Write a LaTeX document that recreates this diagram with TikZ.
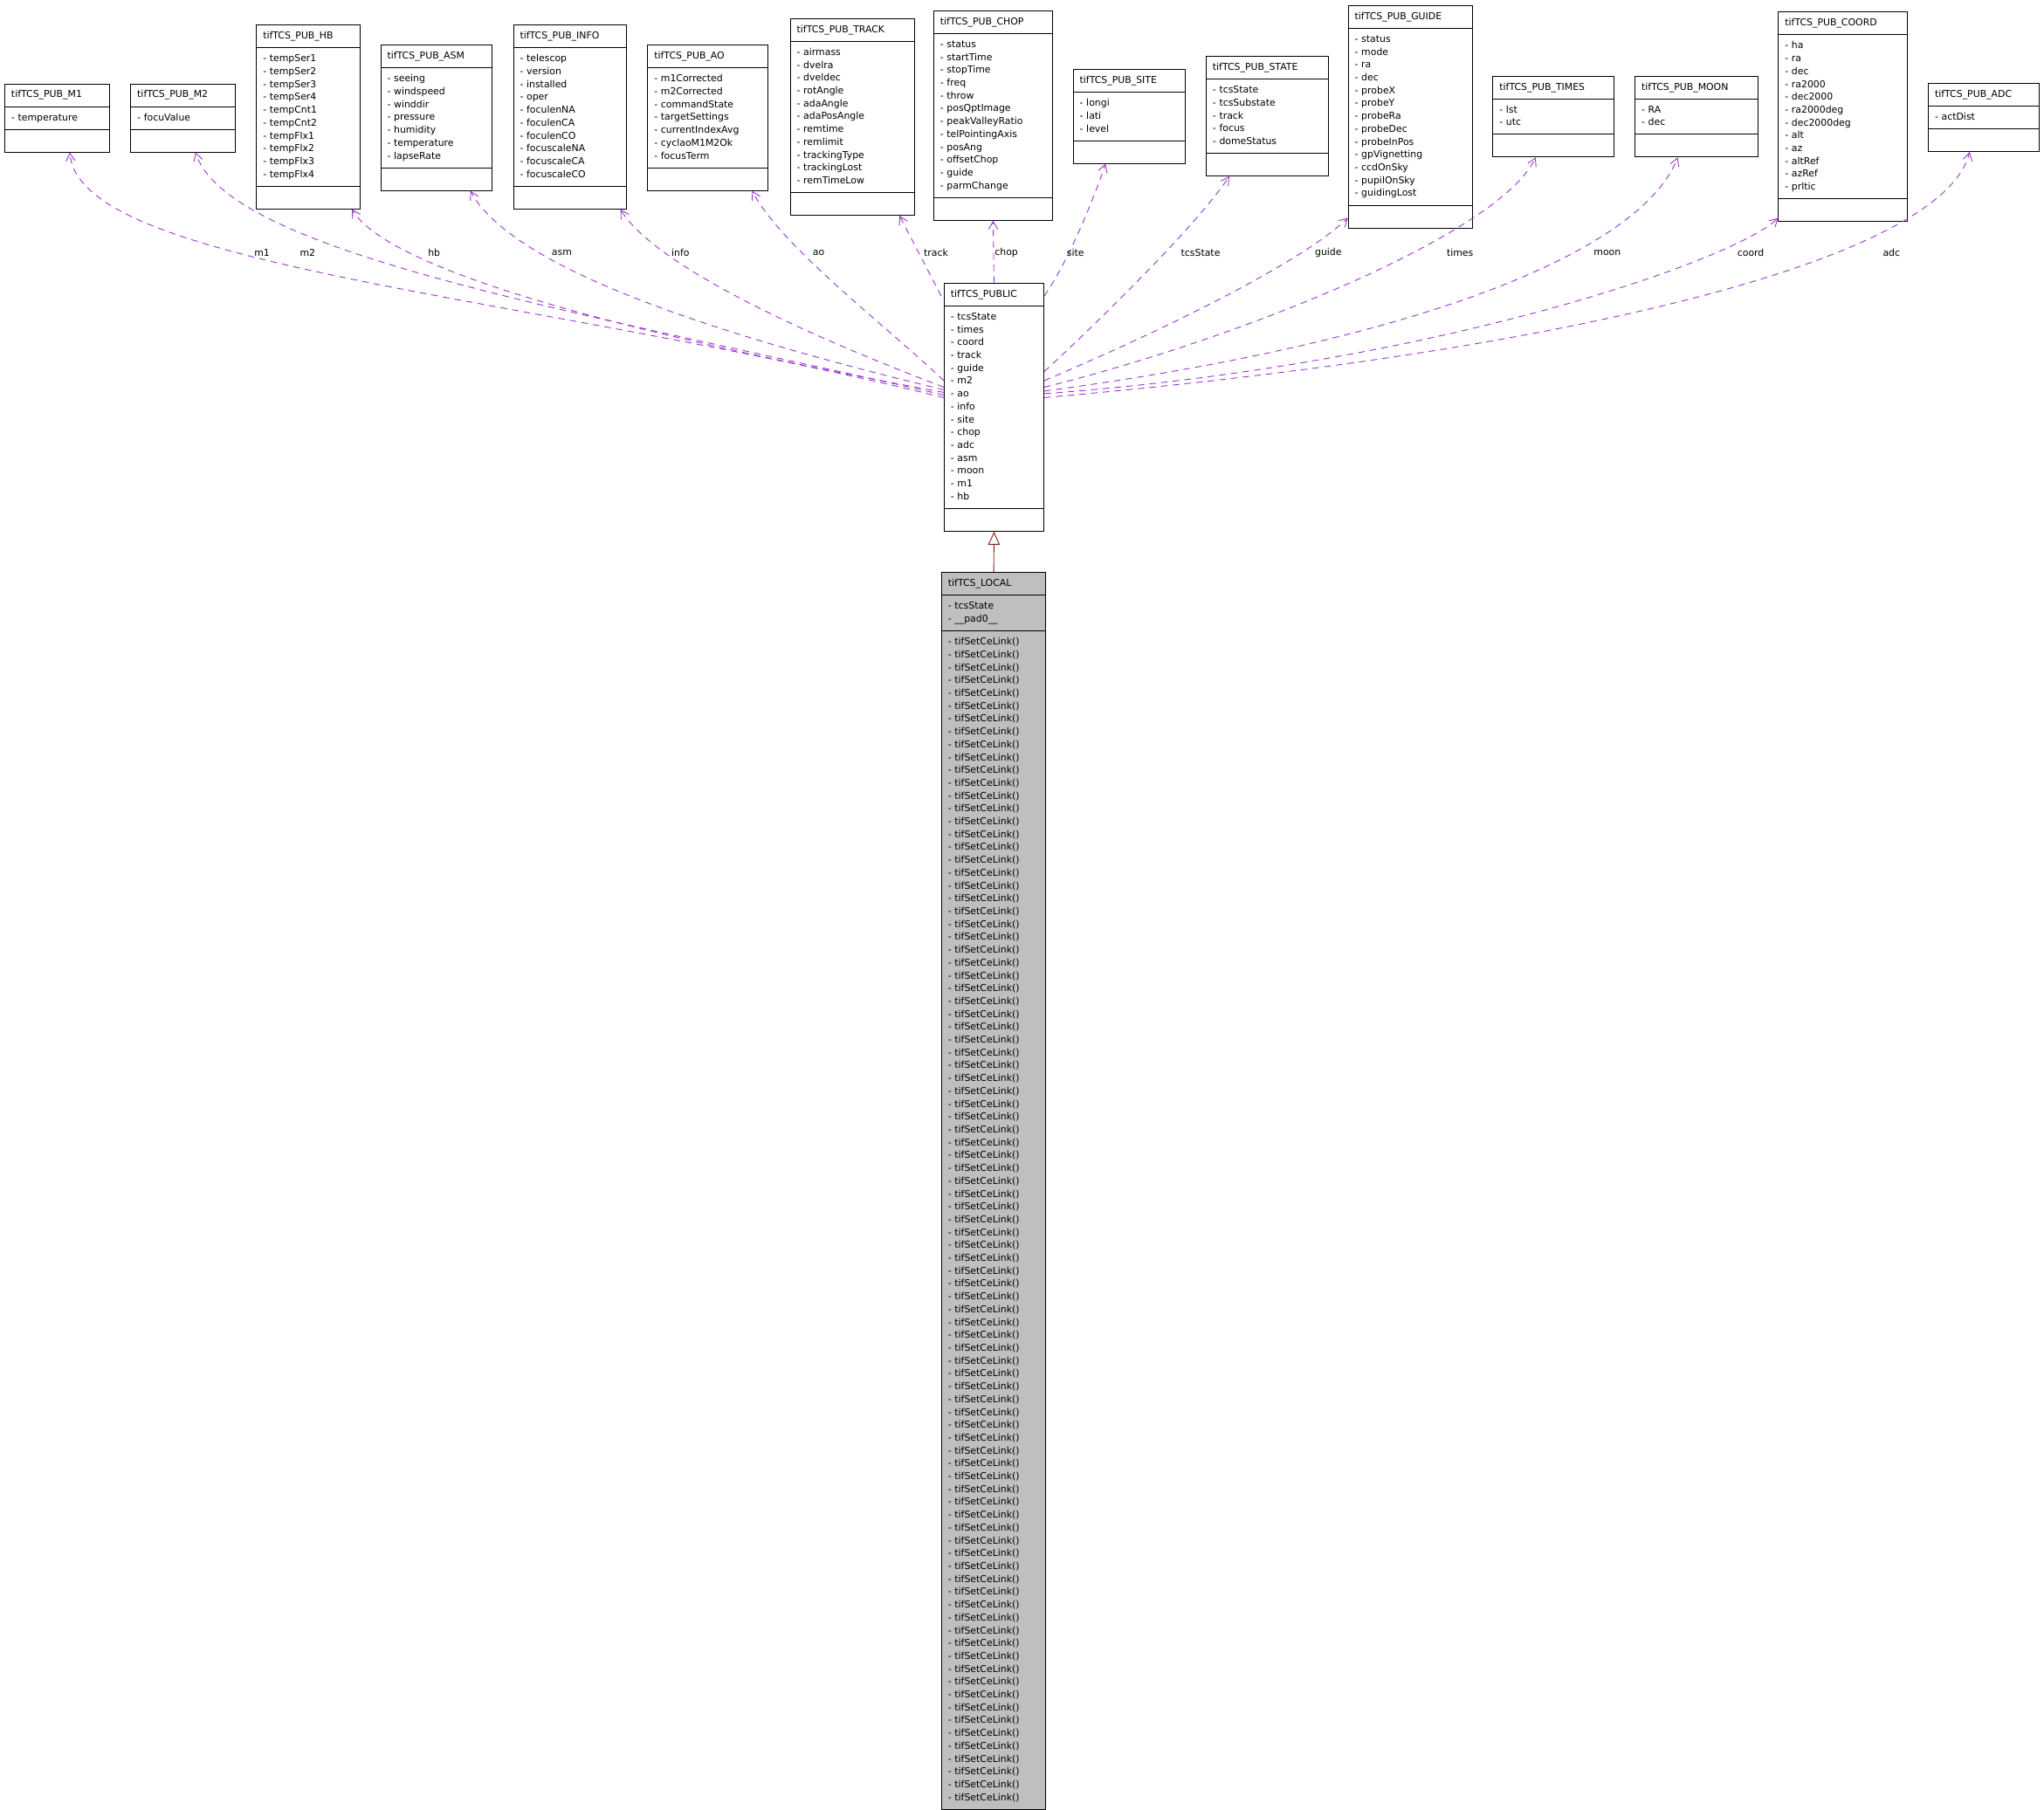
\documentclass[tikz,border=0pt]{standalone}
\usepackage{fontspec}
\setmainfont{DejaVu Sans}
\usetikzlibrary{shapes.multipart,arrows.meta,calc}
\definecolor{dep}{HTML}{9A32CD}
\definecolor{inh}{HTML}{8B1A1A}
\newcommand\ml[1]{\noindent\raggedright- #1\strut\par}
\tikzset{
 cls/.style={draw=black, line width=0.6pt, rectangle split, rectangle split parts=3,
   anchor=north west, inner xsep=5pt, inner ysep=3.5pt,
   font=\fontsize{7.3}{9.85}\selectfont, text width=#1},
 depline/.style={draw=dep, line width=0.6pt, dash pattern=on 5pt off 4pt,
   -{Straight Barb[length=6pt,width=7pt,line width=0.6pt]}},
 lbl/.style={font=\fontsize{7.3}{9.85}\selectfont, inner sep=1pt},
}
\newcommand\umlcls[6]{\node[cls=#4] (#1) at (#2,#3) {\centering #5\strut\nodepart{two}#6\nodepart{three}\strut};}
\begin{document}
\begin{tikzpicture}[x=1pt,y=-1pt]
\useasboundingbox (0,0) rectangle (1568,1388);
\umlcls{m1}{3.4}{64}{70.6}{tifTCS\_PUB\_M1}{\ml{temperature}}
\umlcls{m2}{100}{64}{70}{tifTCS\_PUB\_M2}{\ml{focuValue}}
\umlcls{hb}{196.5}{19}{69.5}{tifTCS\_PUB\_HB}{\ml{tempSer1}\ml{tempSer2}\ml{tempSer3}\ml{tempSer4}\ml{tempCnt1}\ml{tempCnt2}\ml{tempFlx1}\ml{tempFlx2}\ml{tempFlx3}\ml{tempFlx4}}
\umlcls{asm}{291.8}{34.4}{75.2}{tifTCS\_PUB\_ASM}{\ml{seeing}\ml{windspeed}\ml{winddir}\ml{pressure}\ml{humidity}\ml{temperature}\ml{lapseRate}}
\umlcls{info}{393.6}{19}{76.9}{tifTCS\_PUB\_INFO}{\ml{telescop}\ml{version}\ml{installed}\ml{oper}\ml{foculenNA}\ml{foculenCA}\ml{foculenCO}\ml{focuscaleNA}\ml{focuscaleCA}\ml{focuscaleCO}}
\umlcls{ao}{496.6}{34.4}{82.4}{tifTCS\_PUB\_AO}{\ml{m1Corrected}\ml{m2Corrected}\ml{commandState}\ml{targetSettings}\ml{currentIndexAvg}\ml{cyclaoM1M2Ok}\ml{focusTerm}}
\umlcls{track}{606}{14}{85}{tifTCS\_PUB\_TRACK}{\ml{airmass}\ml{dvelra}\ml{dveldec}\ml{rotAngle}\ml{adaAngle}\ml{adaPosAngle}\ml{remtime}\ml{remlimit}\ml{trackingType}\ml{trackingLost}\ml{remTimeLow}}
\umlcls{chop}{716}{8}{81}{tifTCS\_PUB\_CHOP}{\ml{status}\ml{startTime}\ml{stopTime}\ml{freq}\ml{throw}\ml{posQptImage}\ml{peakValleyRatio}\ml{telPointingAxis}\ml{posAng}\ml{offsetChop}\ml{guide}\ml{parmChange}}
\umlcls{site}{823}{53}{76}{tifTCS\_PUB\_SITE}{\ml{longi}\ml{lati}\ml{level}}
\umlcls{state}{925}{43}{84}{tifTCS\_PUB\_STATE}{\ml{tcsState}\ml{tcsSubstate}\ml{track}\ml{focus}\ml{domeStatus}}
\umlcls{guide}{1034}{4}{85}{tifTCS\_PUB\_GUIDE}{\ml{status}\ml{mode}\ml{ra}\ml{dec}\ml{probeX}\ml{probeY}\ml{probeRa}\ml{probeDec}\ml{probeInPos}\ml{gpVignetting}\ml{ccdOnSky}\ml{pupilOnSky}\ml{guidingLost}}
\umlcls{times}{1145}{58}{83}{tifTCS\_PUB\_TIMES}{\ml{lst}\ml{utc}}
\umlcls{moon}{1254}{58}{84}{tifTCS\_PUB\_MOON}{\ml{RA}\ml{dec}}
\umlcls{coord}{1364}{9}{89}{tifTCS\_PUB\_COORD}{\ml{ha}\ml{ra}\ml{dec}\ml{ra2000}\ml{dec2000}\ml{ra2000deg}\ml{dec2000deg}\ml{alt}\ml{az}\ml{altRef}\ml{azRef}\ml{prltic}}
\umlcls{adc}{1479}{63.6}{75}{tifTCS\_PUB\_ADC}{\ml{actDist}}
\umlcls{pub}{724}{217}{66.5}{tifTCS\_PUBLIC}{\ml{tcsState}\ml{times}\ml{coord}\ml{track}\ml{guide}\ml{m2}\ml{ao}\ml{info}\ml{site}\ml{chop}\ml{adc}\ml{asm}\ml{moon}\ml{m1}\ml{hb}}
\node[cls=70, fill=black!25] (loc) at (722,439) {\centering tifTCS\_LOCAL\strut\nodepart{two}\ml{tcsState}\ml{\_\_pad0\_\_}\nodepart{three}\foreach \i in {1,...,91}{\ml{tifSetCeLink()}}};
% inheritance
\draw[inh, line width=0.6pt, -{Triangle[open,length=10pt,width=9pt,fill=white]}] (loc.north) -- (pub.south);
% dependencies
\draw[depline] ($(pub.north west)+(0,88)$) .. controls (400,225) and (60,205) .. ($(m1.south west)+(50.2,0)$);
\draw[depline] ($(pub.north west)+(0,86)$) .. controls (450,240) and (175,195) .. ($(m2.south west)+(50,0)$);
\draw[depline] ($(pub.north west)+(0,84)$) .. controls (500,260) and (300,210) .. ($(hb.south west)+(73.5,0)$);
\draw[depline] ($(pub.north west)+(0,82)$) .. controls (520,250) and (390,200) .. ($(asm.south west)+(69,0)$);
\draw[depline] ($(pub.north west)+(0,80)$) .. controls (600,250) and (500,200) .. ($(info.south west)+(82.4,0)$);
\draw[depline] ($(pub.north west)+(0,75)$) .. controls (680,250) and (600,190) .. ($(ao.south west)+(80.4,0)$);
\draw[depline] ($(pub.north west)+(-2,10)$) -- ($(track.south west)+(84,0)$);
\draw[depline] (pub.north) -- (chop.south);
\draw[depline] ($(pub.north east)+(0,10)$) .. controls (820,200) and (840,150) .. ($(site.south west)+(25,0)$);
\draw[depline] ($(pub.north east)+(0,68)$) .. controls (850,240) and (920,170) .. ($(state.south west)+(18,0)$);
\draw[depline] ($(pub.north east)+(0,75)$) .. controls (900,250) and (1000,200) .. ($(guide.south west)+(0,-8)$);
\draw[depline] ($(pub.north east)+(0,80)$) .. controls (950,260) and (1150,180) .. ($(times.south west)+(33,0)$);
\draw[depline] ($(pub.north east)+(0,83)$) .. controls (1100,260) and (1260,190) .. ($(moon.south west)+(33,0)$);
\draw[depline] ($(pub.north east)+(0,85)$) .. controls (1100,280) and (1330,200) .. ($(coord.south west)+(0,-3)$);
\draw[depline] ($(pub.north east)+(0,88)$) .. controls (1200,270) and (1490,200) .. ($(adc.south west)+(32,0)$);
% labels
\node[lbl] (l1) at (201,194) {m1};
\node[lbl] (l2) at (236,194) {m2};
\node[lbl] (l3) at (333,194) {hb};
\node[lbl] (l4) at (431,194) {asm};
\node[lbl] (l5) at (522,194) {info};
\node[lbl] (l6) at (628,194) {ao};
\node[lbl] (l7) at (718,194) {track};
\node[lbl] (l8) at (772,194) {chop};
\node[lbl] (l9) at (825,194) {site};
\node[lbl] (l10) at (921,194) {tcsState};
\node[lbl] (l11) at (1019,194) {guide};
\node[lbl] (l12) at (1120,194) {times};
\node[lbl] (l13) at (1233,194) {moon};
\node[lbl] (l14) at (1343,194) {coord};
\node[lbl] (l15) at (1451,194) {adc};
\end{tikzpicture}
\end{document}
